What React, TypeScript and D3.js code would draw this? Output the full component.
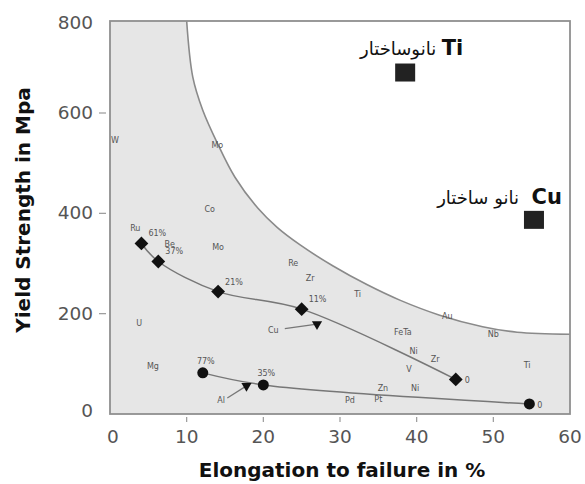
import * as d3 from 'd3';

// boundary curve (elongation %, yield MPa)
const boundaryX = [10, 10.8, 12.1, 14, 16.3, 19.3, 21.8, 24.8, 29.1, 33.5, 37.8, 43, 48.6, 53.1, 60];
const boundaryY = [800, 678, 606, 540, 472, 410, 372, 337, 295, 258, 227, 197, 174, 163, 159];

// diamond series (upper trend)
const diamondX = [4.1, 6.3, 14.1, 25.0, 45.1];
const diamondY = [340, 304, 244, 209, 69];
const diamondLabels = ['61%', '37%', '21%', '11%', '0'];

// circle series (lower trend)
const circleX = [12.1, 20.0, 54.7];
const circleY = [82, 58, 20];
const circleLabels = ['77%', '35%', '0'];

// arrowed triangles: label -> marker
const arrowNames = ['Al', 'Cu'];
const arrowFromX = [15.3, 22.8];
const arrowFromY = [32, 170];
const arrowToX = [17.8, 27.0];
const arrowToY = [56, 179];

// nanostructured squares
const nanoNames = ['Ti', 'Cu'];
const nanoX = [38.5, 55.3];
const nanoY = [688, 387];
const nanoLabelY = [726, 419];
const nanoWord = ['نانوساختار', 'نانو ساختار'];

// element labels
const elemNames = ['W', 'Mo', 'Co', 'Mo', 'Ru', 'Be', 'Re', 'Zr', 'Ti', 'Au', 'Nb', 'FeTa', 'Ni', 'Zr', 'V', 'Ti', 'Zn', 'Ni', 'Pt', 'Pd', 'U', 'Mg', 'Cu', 'Al'];
const elemX = [0.65, 14.0, 13.0, 14.1, 3.3, 7.8, 23.9, 26.1, 32.3, 44.0, 50.0, 38.2, 39.6, 42.4, 39.0, 54.4, 35.6, 39.8, 35.0, 31.3, 3.8, 5.6, 21.3, 14.5];
const elemY = [546, 536, 409, 333, 371, 339, 301, 271, 239, 195, 160, 164, 126, 110, 90, 98, 52, 52, 30, 28, 181, 96, 167, 28];

const xTicks = [0, 10, 20, 30, 40, 50, 60];
const yTicks = [0, 200, 400, 600, 800];

export default function App() {
  const W = 585, H = 484;
  const x = d3.scaleLinear().domain([0, 60]).range([110, 570]);
  const y = d3.scaleLinear().domain([0, 600, 800]).range([414, 113, 21]);

  const bPts = boundaryX.map((v, i) => [v, boundaryY[i]] as [number, number]);
  const smooth = d3.curveCatmullRom.alpha(0.5);
  const whiteArea = d3.area<[number, number]>()
    .x(d => x(d[0])).y0(y(800)).y1(d => y(d[1]))
    .curve(smooth)(bPts)!;
  const bLine = d3.line<[number, number]>()
    .x(d => x(d[0])).y(d => y(d[1]))
    .curve(smooth)(bPts)!;

  const dPts = diamondX.map((v, i) => [v, diamondY[i]] as [number, number]);
  const cPts = circleX.map((v, i) => [v, circleY[i]] as [number, number]);
  const trend = d3.line<[number, number]>()
    .x(d => x(d[0])).y(d => y(d[1]))
    .curve(smooth);

  const diamond = d3.symbol().type(d3.symbolSquare).size(95)()!;
  const tri = d3.symbol().type(d3.symbolTriangle).size(45)()!;

  const x0 = x(0), x1 = x(60), yTop = y(800), yBot = y(0);
  const font = 'DejaVu Sans';

  return (
    <svg width={W} height={H} style={{ position: 'absolute', left: 0, top: 0, background: '#fff' }}>
      <rect x={x0} y={yTop} width={x1 - x0} height={yBot - yTop} fill="#e6e6e6" />
      <path d={whiteArea} fill="#fff" />
      <path d={bLine} fill="none" stroke="#8a8a8a" strokeWidth={1.6} />

      {/* frame */}
      <rect x={x0} y={yTop} width={x1 - x0} height={yBot - yTop} fill="none" stroke="#8f8f8f" strokeWidth={1.8} />

      {/* axes */}
      {xTicks.map(t => (
        <g key={'xt' + t}>
          {t > 0 && t < 60 && <line x1={x(t)} x2={x(t)} y1={yBot + 3} y2={yBot + 8} stroke="#999" strokeWidth={1.2} />}
          <text x={x(t) + (t === 0 ? 3 : 0)} y={yBot + 29} textAnchor="middle" fontFamily={font} fontSize={18.5} fill="#555">{t}</text>
        </g>
      ))}
      {yTicks.map(t => (
        <g key={'yt' + t}>
          {t > 0 && t < 800 && <line x1={x0 - 11} x2={x0 - 4} y1={y(t)} y2={y(t)} stroke="#999" strokeWidth={1.2} />}
          <text x={93} y={y(t) + (t === 800 ? 8 : t === 0 ? 3 : 6)} textAnchor="end" fontFamily={font} fontSize={18.5} fill="#555">{t}</text>
        </g>
      ))}
      <text x={342} y={477} textAnchor="middle" fontFamily={font} fontWeight="bold" fontSize={20} fill="#111">Elongation to failure in %</text>
      <text transform={`translate(30,210) rotate(-90)`} textAnchor="middle" fontFamily={font} fontWeight="bold" fontSize={20} fill="#111">Yield Strength in Mpa</text>

      {/* element labels */}
      {elemNames.map((n, i) => (
        <text key={'e' + i} x={x(elemX[i])} y={y(elemY[i]) + 3} textAnchor="middle" fontFamily={font} fontSize={8} fill="#555">{n}</text>
      ))}

      {/* trend lines */}
      <path d={trend(dPts)!} fill="none" stroke="#777" strokeWidth={1.5} />
      <path d={trend(cPts)!} fill="none" stroke="#777" strokeWidth={1.5} />

      {dPts.map((p, i) => (
        <g key={'d' + i}>
          <path d={diamond} transform={`translate(${x(p[0])},${y(p[1])}) rotate(45)`} fill="#111" />
          <text x={x(p[0]) + (i === 4 ? 9 : 7)} y={y(p[1]) + (i === 4 ? 4 : -7)} fontFamily={font} fontSize={8} fill="#555">{diamondLabels[i]}</text>
        </g>
      ))}
      {cPts.map((p, i) => (
        <g key={'c' + i}>
          <circle cx={x(p[0])} cy={y(p[1])} r={5.5} fill="#111" />
          {i < 2
            ? <text x={x(p[0]) + 3} y={y(p[1]) - 9} textAnchor="middle" fontFamily={font} fontSize={8} fill="#555">{circleLabels[i]}</text>
            : <text x={x(p[0]) + 8} y={y(p[1]) + 4} fontFamily={font} fontSize={8} fill="#555">{circleLabels[i]}</text>}
        </g>
      ))}

      {/* arrows */}
      {arrowNames.map((n, i) => (
        <g key={'a' + n}>
          <line x1={x(arrowFromX[i])} y1={y(arrowFromY[i])} x2={x(arrowToX[i])} y2={y(arrowToY[i])} stroke="#777" strokeWidth={1.3} />
          <path d={tri} transform={`translate(${x(arrowToX[i])},${y(arrowToY[i])}) rotate(180)`} fill="#111" />
        </g>
      ))}

      {/* nanostructured points */}
      {nanoNames.map((n, i) => (
        <g key={'n' + n}>
          <rect x={x(nanoX[i]) - 10} y={y(nanoY[i]) - 9} width={20} height={18} fill="#222" />
          <text x={x(nanoX[i]) + (i === 0 ? 58 : 28)} y={y(nanoLabelY[i])} textAnchor="end" fontFamily={font} fontWeight="bold" fontSize={21} fill="#111">{n}</text>
          <text x={x(nanoX[i]) + (i === 0 ? 31 : -15)} y={y(nanoLabelY[i])} textAnchor="end" fontFamily={font} fontSize={18} fill="#111">{nanoWord[i]}</text>
        </g>
      ))}
    </svg>
  );
}
